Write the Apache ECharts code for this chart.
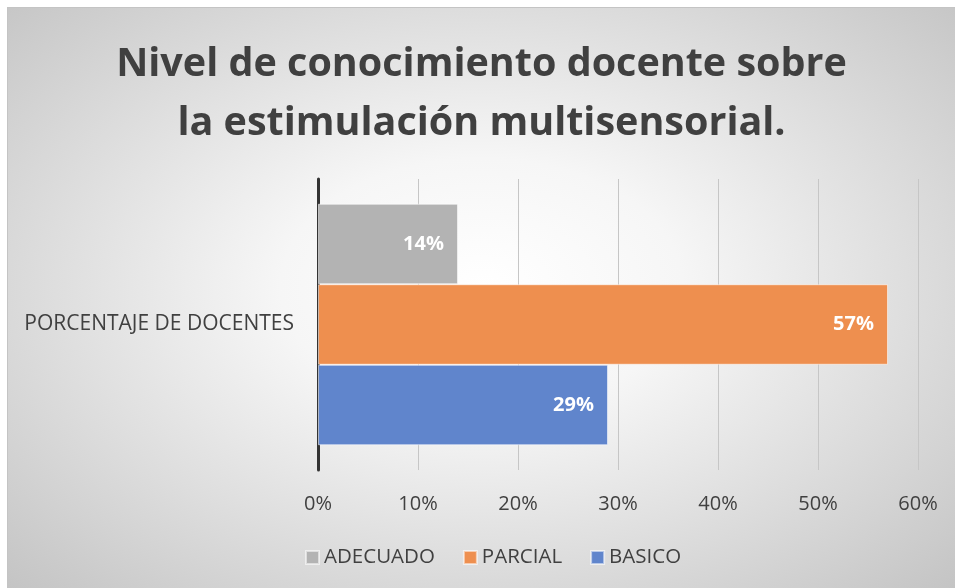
<!DOCTYPE html>
<html>
<head>
<meta charset="utf-8">
<script src="https://cdn.jsdelivr.net/npm/echarts@6/dist/echarts.min.js"></script>
<style>
  html, body { margin: 0; padding: 0; background: #fff; }
  .box {
    position: absolute; left: 7px; top: 7px; width: 948px; height: 581px;
    border-left: 1px solid #c4c4c4; border-top: 1px solid #c4c4c4; box-sizing: border-box;
    background: radial-gradient(ellipse at 50% 48%, #ffffff 0%, #f6f6f6 30%, #d8d8d8 72%, #c4c4c4 100%);
  }
  #chart { width: 100%; height: 100%; }
</style>
</head>
<body>
<div class="box"><div id="chart"></div></div>
<script>
// datos del gráfico
const categories = ["PORCENTAJE DE DOCENTES"];
const seriesNames = ["ADECUADO", "PARCIAL", "BASICO"];
const adecuado = [14];
const parcial = [57];
const basico = [29];
const colors = ["#b3b3b3", "#ee8f4f", "#6085cc"];

const chart = echarts.init(document.getElementById("chart"));

const barLabel = {
  show: true,
  position: "insideRight",
  distance: 14,
  color: "#fff",
  fontWeight: "bold",
  fontSize: 20,
  fontFamily: "Open Sans",
  formatter: (p) => p.value + "%"
};

const makeSeries = (name, data, color) => ({
  name: name,
  type: "bar",
  data: data,
  barGap: "0%",
  barCategoryGap: "17%",
  itemStyle: { color: color, borderColor: "rgba(255,255,255,0.55)", borderWidth: 1 },
  label: barLabel
});

chart.setOption({
  textStyle: { fontFamily: "Open Sans" },
  title: {
    text: "Nivel de conocimiento docente sobre\nla estimulación multisensorial.",
    left: "center",
    top: 22,
    padding: [5, 5, 5, 19],
    textStyle: { fontSize: 39.5, fontWeight: "bold", color: "#404040", lineHeight: 59, fontFamily: "Open Sans" }
  },
  legend: {
    data: seriesNames,
    left: 292,
    top: 534,
    itemWidth: 13,
    itemHeight: 13,
    itemGap: 28,
    icon: "rect",
    textStyle: { fontSize: 20.5, color: "#404040" }
  },
  grid: { left: 310, right: 37, top: 171, bottom: 118, containLabel: false },
  xAxis: {
    type: "value",
    min: 0,
    max: 60,
    interval: 10,
    axisLine: { show: false },
    axisTick: { show: false },
    axisLabel: { formatter: "{value}%", fontSize: 20, color: "#404040", margin: 24 },
    splitLine: { lineStyle: { color: "#c6c6c6", width: 1 } }
  },
  yAxis: {
    type: "category",
    data: categories,
    inverse: true,
    axisLine: { lineStyle: { color: "#333", width: 3 } },
    axisTick: { show: false },
    axisLabel: { fontSize: 21, color: "#404040", margin: 24 }
  },
  series: [
    makeSeries(seriesNames[0], adecuado, colors[0]),
    makeSeries(seriesNames[1], parcial, colors[1]),
    makeSeries(seriesNames[2], basico, colors[2])
  ]
});

window.addEventListener("resize", () => chart.resize());
</script>
</body>
</html>
